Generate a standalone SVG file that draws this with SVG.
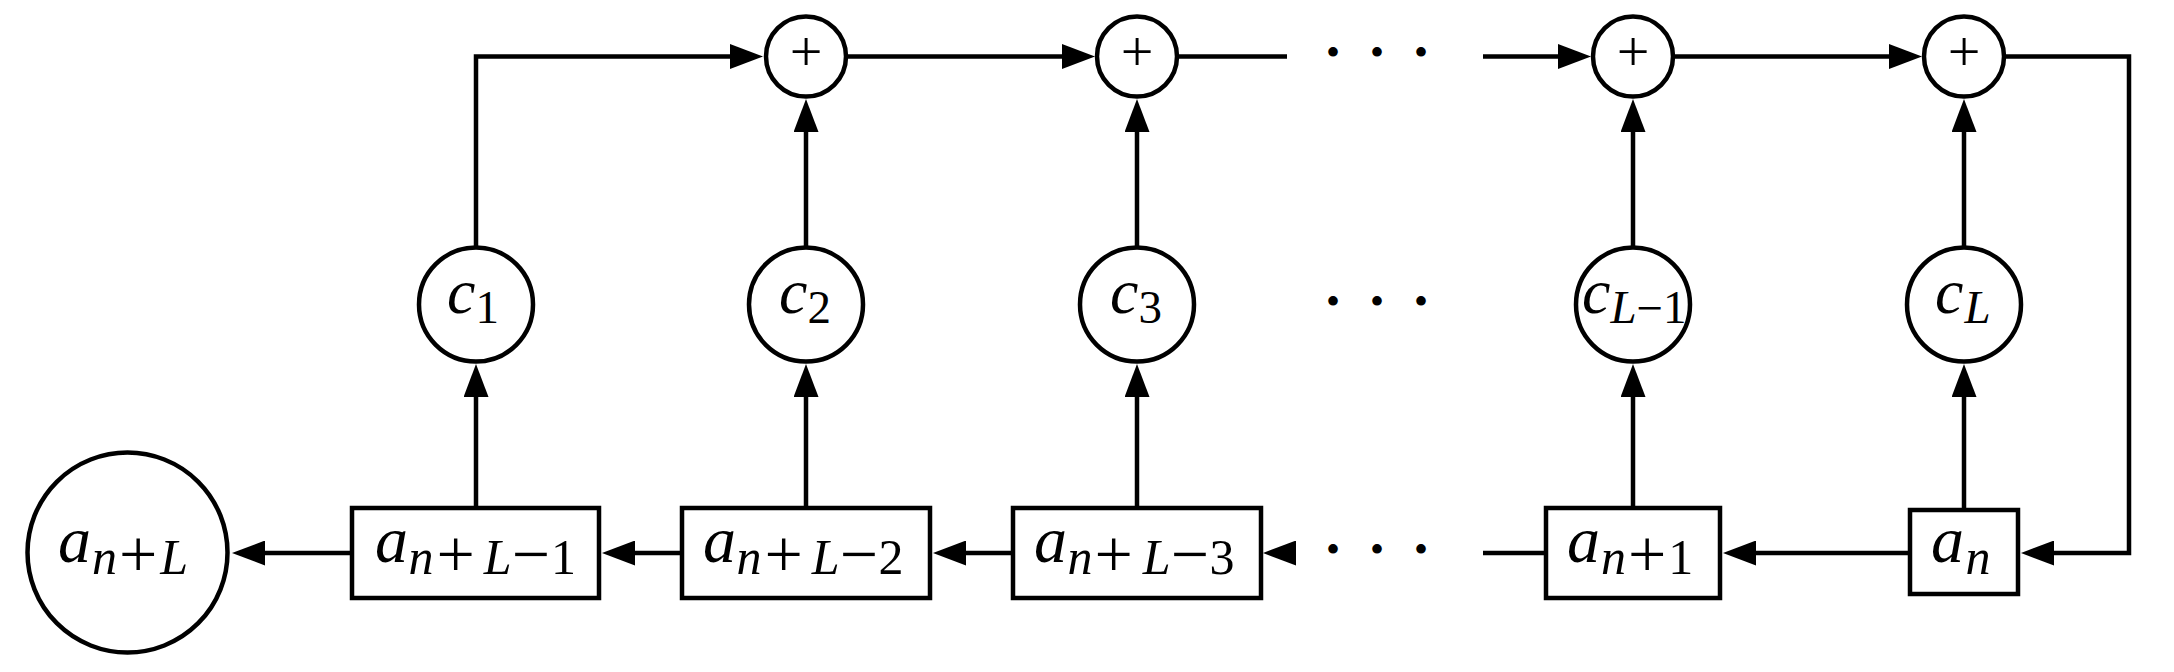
<svg xmlns="http://www.w3.org/2000/svg" width="2174" height="672" viewBox="0 0 2174 672">
<style>
.ln{fill:none;stroke:#000;stroke-width:4.5;stroke-linejoin:miter;stroke-linecap:butt}
.nd{fill:#fff;stroke:#000;stroke-width:4.5}
text{font-family:'Liberation Serif','DejaVu Serif',serif;fill:#000}
.i{font-style:italic}
.m{font-size:66px}
.s{font-size:50px}
.o{font-size:68px}
.cm{font-size:64px}
.cs{font-size:47px}
.pl{font-size:58px}
.dt{font-size:40px}
</style>
<defs>
<marker id="arr" viewBox="0 0 33 25" markerWidth="33" markerHeight="25" markerUnits="userSpaceOnUse" refX="13" refY="12.5" orient="auto">
<path d="M0,0 L33,12.5 L0,25 z" fill="#000"/>
</marker>
</defs>
<rect width="2174" height="672" fill="#fff"/>
<g id="connectors">
<path class="ln" d="M352,553 L252,553" marker-end="url(#arr)"/>
<path class="ln" d="M682,553 L622,553" marker-end="url(#arr)"/>
<path class="ln" d="M1013,553 L953,553" marker-end="url(#arr)"/>
<path class="ln" d="M1296,553 L1283,553" marker-end="url(#arr)"/>
<path class="ln" d="M1483,553 L1546,553"/>
<path class="ln" d="M1910,553 L1743,553" marker-end="url(#arr)"/>
<path class="ln" d="M2004,56.5 L2129,56.5 L2129,553 L2041,553" marker-end="url(#arr)"/>
<path class="ln" d="M476,247.5 L476,56.5 L743,56.5" marker-end="url(#arr)"/>
<path class="ln" d="M846,56.5 L1075,56.5" marker-end="url(#arr)"/>
<path class="ln" d="M1177,56.5 L1287,56.5"/>
<path class="ln" d="M1483,56.5 L1571,56.5" marker-end="url(#arr)"/>
<path class="ln" d="M1673,56.5 L1902,56.5" marker-end="url(#arr)"/>
<path class="ln" d="M476,508 L476,384" marker-end="url(#arr)"/>
<path class="ln" d="M806,508 L806,384" marker-end="url(#arr)"/>
<path class="ln" d="M1137,508 L1137,384" marker-end="url(#arr)"/>
<path class="ln" d="M1633,508 L1633,384" marker-end="url(#arr)"/>
<path class="ln" d="M1964,510 L1964,384" marker-end="url(#arr)"/>
<path class="ln" d="M806,247.5 L806,119" marker-end="url(#arr)"/>
<path class="ln" d="M1137,247.5 L1137,119" marker-end="url(#arr)"/>
<path class="ln" d="M1633,247.5 L1633,119" marker-end="url(#arr)"/>
<path class="ln" d="M1964,247.5 L1964,119" marker-end="url(#arr)"/>
</g>
<g id="out_anL">
<circle class="nd" cx="127.5" cy="552.5" r="100"/>
<text x="58" y="562"><tspan class="i m">a</tspan><tspan class="i s" dx="1" dy="12">n</tspan><tspan class="o" dx="2" dy="3">+</tspan><tspan class="i s" dx="3" dy="-3">L</tspan></text>
</g>
<g id="reg1">
<rect class="nd" x="352" y="508" width="247" height="90"/>
<text x="375" y="562"><tspan class="i m">a</tspan><tspan class="i s" dx="0.5" dy="12">n</tspan><tspan class="o" dx="3" dy="3">+</tspan><tspan class="i s" dx="9" dy="-3">L</tspan><tspan class="o" dy="3">−</tspan><tspan class="s" dx="1" dy="-3">1</tspan></text>
</g>
<g id="reg2">
<rect class="nd" x="682" y="508" width="248" height="90"/>
<text x="703" y="562"><tspan class="i m">a</tspan><tspan class="i s" dx="0.5" dy="12">n</tspan><tspan class="o" dx="3" dy="3">+</tspan><tspan class="i s" dx="9" dy="-3">L</tspan><tspan class="o" dy="3">−</tspan><tspan class="s" dx="0.5" dy="-3">2</tspan></text>
</g>
<g id="reg3">
<rect class="nd" x="1013" y="508" width="248" height="90"/>
<text x="1034" y="562"><tspan class="i m">a</tspan><tspan class="i s" dx="0.5" dy="12">n</tspan><tspan class="o" dx="2" dy="3">+</tspan><tspan class="i s" dx="10" dy="-3">L</tspan><tspan class="o" dy="3">−</tspan><tspan class="s" dx="0.5" dy="-3">3</tspan></text>
</g>
<g id="reg4">
<rect class="nd" x="1546" y="508" width="174" height="90"/>
<text x="1567" y="562"><tspan class="i m">a</tspan><tspan class="i s" dx="1" dy="12">n</tspan><tspan class="o" dx="2" dy="3">+</tspan><tspan class="s" dx="2" dy="-3">1</tspan></text>
</g>
<g id="reg5">
<rect class="nd" x="1910" y="510" width="108" height="84"/>
<text x="1931" y="562"><tspan class="i m">a</tspan><tspan class="i s" dx="1.5" dy="12">n</tspan></text>
</g>
<g id="coef1">
<circle class="nd" cx="476" cy="304.5" r="57"/>
<text x="447" y="313"><tspan class="i cm">c</tspan><tspan class="cs" dy="10">1</tspan></text>
</g>
<g id="coef2">
<circle class="nd" cx="806" cy="304.5" r="57"/>
<text x="779" y="313"><tspan class="i cm">c</tspan><tspan class="cs" dy="10">2</tspan></text>
</g>
<g id="coef3">
<circle class="nd" cx="1137" cy="304.5" r="57"/>
<text x="1110" y="313"><tspan class="i cm">c</tspan><tspan class="cs" dy="10">3</tspan></text>
</g>
<g id="coef4">
<circle class="nd" cx="1633" cy="304.5" r="57"/>
<text x="1582" y="313"><tspan class="i cm">c</tspan><tspan class="i cs" dy="10">L</tspan><tspan class="cs" dy="1">−</tspan><tspan class="cs" dy="-1">1</tspan></text>
</g>
<g id="coef5">
<circle class="nd" cx="1964" cy="304.5" r="57"/>
<text x="1935" y="313"><tspan class="i cm">c</tspan><tspan class="i cs" dx="1" dy="10">L</tspan></text>
</g>
<g id="sum1">
<circle class="nd" cx="806" cy="56.5" r="40"/>
<text class="pl" x="806" y="71" text-anchor="middle">+</text>
</g>
<g id="sum2">
<circle class="nd" cx="1137" cy="56.5" r="40"/>
<text class="pl" x="1137" y="71" text-anchor="middle">+</text>
</g>
<g id="sum3">
<circle class="nd" cx="1633" cy="56.5" r="40"/>
<text class="pl" x="1633" y="71" text-anchor="middle">+</text>
</g>
<g id="sum4">
<circle class="nd" cx="1964" cy="56.5" r="40"/>
<text class="pl" x="1964" y="71" text-anchor="middle">+</text>
</g>
<g id="dots">
<text class="dt" x="1333 1377 1421" y="66" text-anchor="middle">•••</text>
<text class="dt" x="1333 1377 1421" y="315" text-anchor="middle">•••</text>
<text class="dt" x="1333 1377 1421" y="563" text-anchor="middle">•••</text>
</g>
</svg>
